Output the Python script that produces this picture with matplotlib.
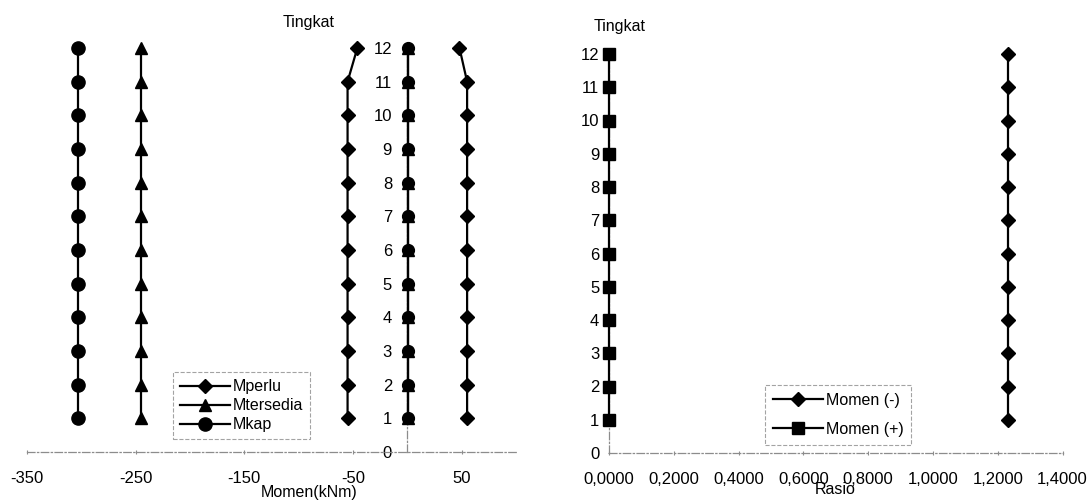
import numpy as np
import matplotlib
matplotlib.use("Agg")
from matplotlib import pyplot as plt

plt.rcParams['font.family'] = ['Liberation Sans', 'DejaVu Sans']
plt.rcParams['axes.unicode_minus'] = False

# storey levels
tingkat = [1, 2, 3, 4, 5, 6, 7, 8, 9, 10, 11, 12]

# moments (kNm), negative and positive side
mperlu_neg = [-55, -55, -55, -55, -55, -55, -55, -55, -55, -55, -55, -46]
mperlu_pos = [55, 55, 55, 55, 55, 55, 55, 55, 55, 55, 55, 48]
mtersedia_neg = [-245, -245, -245, -245, -245, -245, -245, -245, -245, -245, -245, -245]
mtersedia_pos = [0.5, 0.5, 0.5, 0.5, 0.5, 0.5, 0.5, 0.5, 0.5, 0.5, 0.5, 0.5]
mkap_neg = [-303, -303, -303, -303, -303, -303, -303, -303, -303, -303, -303, -303]
mkap_pos = [0.5, 0.5, 0.5, 0.5, 0.5, 0.5, 0.5, 0.5, 0.5, 0.5, 0.5, 0.5]

# ratio of moments
rasio_neg = [1.23, 1.23, 1.23, 1.23, 1.23, 1.23, 1.23, 1.23, 1.23, 1.23, 1.23, 1.23]
rasio_pos = [0.0, 0.0, 0.0, 0.0, 0.0, 0.0, 0.0, 0.0, 0.0, 0.0, 0.0, 0.0]

x_ticks_moment = [-350, -250, -150, -50, 50]
x_ticks_rasio = [0.0, 0.2, 0.4, 0.6, 0.8, 1.0, 1.2, 1.4]
y_ticks = [0, 1, 2, 3, 4, 5, 6, 7, 8, 9, 10, 11, 12]

W, H = 1091, 500
AXIS_GRAY = '#8c8c8c'
AXIS_STYLE = (0, (6, 2, 1, 2))


def style_axes(ax, ypad):
    for side in ('top', 'right'):
        ax.spines[side].set_visible(False)
    ax.spines['left'].set_position(('data', 0))
    for side in ('left', 'bottom'):
        ax.spines[side].set_color(AXIS_GRAY)
        ax.spines[side].set_linewidth(0.9)
        ax.spines[side].set_linestyle(AXIS_STYLE)
    ax.set_yticks(y_ticks)
    ax.tick_params(axis='x', length=3, width=0.8, color=AXIS_GRAY,
                   direction='inout', pad=12, labelsize=12)
    ax.tick_params(axis='y', length=2, width=0.8, color=AXIS_GRAY,
                   direction='inout', pad=ypad, labelsize=12)
    ax.set_ylim(0, 12)


def series(ax, x, y, marker, ms, label=None):
    return ax.plot(x, y, color='black', lw=1.6, marker=marker, ms=ms,
                   clip_on=False, zorder=3, label=label)[0]


fig = plt.figure(figsize=(W / 100, H / 100), dpi=100)

# --- left: moments ---
ax1 = fig.add_axes([27 / W, 48 / H, 489 / W, 404 / H])
h1 = series(ax1, mperlu_neg, tingkat, 'D', 7.3, 'Mperlu')
series(ax1, mperlu_pos, tingkat, 'D', 7.3)
h2 = series(ax1, mtersedia_neg, tingkat, '^', 9, 'Mtersedia')
series(ax1, mtersedia_pos, tingkat, '^', 9)
h3 = series(ax1, mkap_neg, tingkat, 'o', 9.5, 'Mkap')
series(ax1, mkap_pos, tingkat, 'o', 8.5)
ax1.set_xlim(-350, 100)
ax1.set_xticks(x_ticks_moment)
style_axes(ax1, 10)

leg1 = ax1.legend(handles=[h1, h2, h3], loc='upper left',
                  bbox_to_anchor=(173 / W, 1 - 372 / H),
                  bbox_transform=fig.transFigure, fontsize=11.5,
                  fancybox=False, borderaxespad=0, borderpad=0.45,
                  labelspacing=0.25, handlelength=3.1, handletextpad=0.2)
leg1.get_frame().set_edgecolor(AXIS_GRAY)
leg1.get_frame().set_linestyle('--')
leg1.get_frame().set_linewidth(0.8)

fig.text(309 / W, 1 - 23 / H, 'Tingkat', ha='center', va='center', fontsize=11.5)
fig.text(309 / W, 1 - 492 / H, 'Momen(kNm)', ha='center', va='center', fontsize=11.5)

# --- right: ratio ---
ax2 = fig.add_axes([609 / W, 47 / H, 453.6 / W, 399 / H])
g1 = series(ax2, rasio_neg, tingkat, 'D', 7.3, 'Momen (-)')
g2 = series(ax2, rasio_pos, tingkat, 's', 8, 'Momen (+)')
ax2.set_xlim(0, 1.4)
ax2.set_xticks(x_ticks_rasio)
ax2.set_xticklabels([f'{v:.4f}'.replace('.', ',') for v in x_ticks_rasio])
style_axes(ax2, 6)

leg2 = ax2.legend(handles=[g1, g2], loc='upper left',
                  bbox_to_anchor=(765 / W, 1 - 385 / H),
                  bbox_transform=fig.transFigure, fontsize=11.5,
                  fancybox=False, borderaxespad=0, borderpad=0.5,
                  labelspacing=0.85, handlelength=3.1, handletextpad=0.2)
leg2.get_frame().set_edgecolor(AXIS_GRAY)
leg2.get_frame().set_linestyle('--')
leg2.get_frame().set_linewidth(0.8)

fig.text(620 / W, 1 - 26 / H, 'Tingkat', ha='center', va='center', fontsize=11.5)
fig.text(835 / W, 1 - 490 / H, 'Rasio', ha='center', va='center', fontsize=11.5)

fig.savefig('out.png', dpi=100)
